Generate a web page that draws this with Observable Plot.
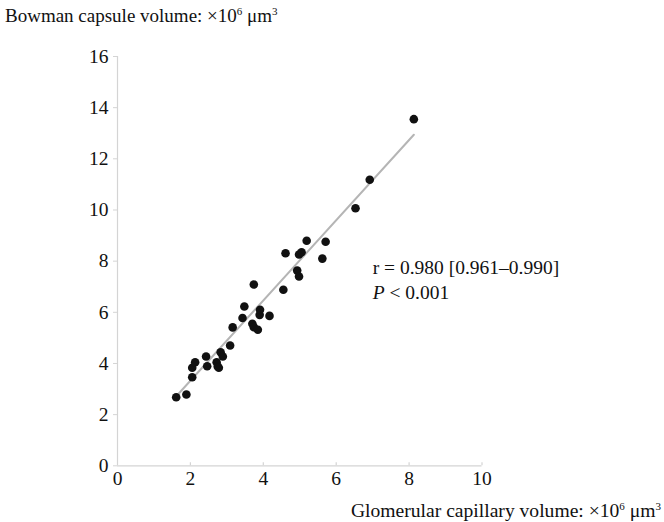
<!DOCTYPE html>
<html>
<head>
<meta charset="utf-8">
<script src="https://cdn.jsdelivr.net/npm/d3@7"></script>
<script src="https://cdn.jsdelivr.net/npm/@observablehq/plot@0.6"></script>
<style>
  html, body { margin: 0; padding: 0; background: #fff; }
  #wrap { position: relative; width: 664px; height: 522px; font-family: "Liberation Serif", "Times New Roman", serif; color: #111; }
  .lab { position: absolute; font-size: 19px; line-height: 24px; white-space: nowrap; }
  .lab sup { font-size: 11px; vertical-align: 7px; line-height: 0; }
  #title { left: 5px; top: 4px; }
  #xlab { right: 3px; top: 499px; font-size: 19.6px; }
  #chart svg, #chart svg text { font-family: "Liberation Serif", "Times New Roman", serif !important; }
</style>
</head>
<body>
<div id="wrap">
  <div id="chart"></div>
  <div class="lab" id="title">Bowman capsule volume: ×10<sup>6</sup> μm<sup>3</sup></div>
  <div class="lab" id="xlab">Glomerular capillary volume: ×10<sup>6</sup> μm<sup>3</sup></div>
</div>
<script>
// Glomerular capillary volume (x10^6 µm^3)
const glomerular = [1.61, 1.89, 2.05, 2.05, 2.13, 2.43, 2.46, 2.72, 2.75, 2.78, 2.83, 2.89, 3.09, 3.16, 3.43, 3.48, 3.70, 3.74, 3.85, 3.74, 3.90, 3.91, 4.17, 4.55, 4.61, 4.93, 4.98, 4.98, 5.05, 5.19, 5.62, 5.71, 6.53, 6.92, 8.13];
// Bowman capsule volume (x10^6 µm^3)
const bowman = [2.68, 2.79, 3.46, 3.83, 4.05, 4.27, 3.89, 4.05, 3.88, 3.83, 4.44, 4.27, 4.70, 5.41, 5.78, 6.23, 5.55, 5.42, 5.32, 7.09, 5.90, 6.10, 5.86, 6.88, 8.31, 7.63, 7.40, 8.26, 8.35, 8.80, 8.10, 8.76, 10.07, 11.18, 13.55];
// Regression line end points
const fitX = [1.55, 8.13];
const fitY = [2.62, 12.94];
// Tick values
const xTicks = [0, 2, 4, 6, 8, 10];
const yTicks = [0, 2, 4, 6, 8, 10, 12, 14, 16];
// Annotation
const annotLines = ["r = 0.980 [0.961–0.990]", "P < 0.001"];
const annotX = [7.0, 7.0];
const annotY = [7.75, 6.77];

const points = glomerular.map((g, i) => ({x: g, y: bowman[i]}));
const fit = fitX.map((x, i) => ({x, y: fitY[i]}));
const annot = annotLines.map((t, i) => ({t, x: annotX[i], y: annotY[i]}));

const axisColor = "#d4d4d4";
const serif = "Liberation Serif, Times New Roman, serif";

const plot = Plot.plot({
  width: 664,
  height: 522,
  marginLeft: 117,
  marginRight: 182.5,
  marginTop: 56,
  marginBottom: 56.7,
  style: {fontFamily: serif, fontSize: "19px", color: "#111", background: "white", overflow: "visible"},
  x: {domain: [0, 10]},
  y: {domain: [0, 16]},
  marks: [
    Plot.ruleY([0], {stroke: axisColor, strokeWidth: 1.2}),
    Plot.ruleX([0], {stroke: axisColor, strokeWidth: 1.2}),
    Plot.axisY({ticks: yTicks, tickSize: 4, tickPadding: 5, stroke: axisColor, fill: "#111", fontSize: 19.5, label: null, tickFormat: d => String(d)}),
    Plot.axisX({ticks: xTicks, tickSize: 0, tickPadding: 5, fill: "#111", fontSize: 19.5, label: null, tickFormat: d => String(d)}),
    Plot.ruleX(xTicks.slice(1), {x: d => d, y1: 0, y2: 0.12, stroke: axisColor, strokeWidth: 1.2}),
    Plot.line(fit, {x: "x", y: "y", stroke: "#b5b5b5", strokeWidth: 2}),
    Plot.dot(points, {x: "x", y: "y", r: 4.3, fill: "#111", stroke: "none"}),
    Plot.text(annot, {x: "x", y: "y", text: "t", textAnchor: "start", fill: "#111", fontSize: 19.5})
  ]
});
document.getElementById("chart").appendChild(plot);

// italic P in the second annotation line
d3.select(plot).selectAll("text").each(function() {
  const el = d3.select(this);
  if (el.text() === "P < 0.001") {
    el.text(null);
    el.append("tspan").attr("font-style", "italic").text("P");
    el.append("tspan").text(" < 0.001");
  }
});
</script>
</body>
</html>
